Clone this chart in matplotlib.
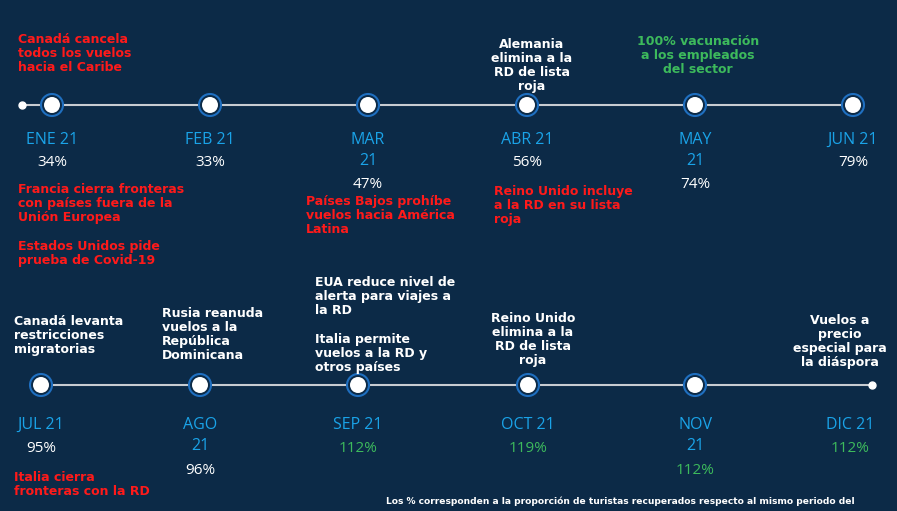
import matplotlib.pyplot as plt
from matplotlib.patches import Circle

# Datos
meses_1 = ['ENE 21', 'FEB 21', 'MAR\n21', 'ABR 21', 'MAY\n21', 'JUN 21']
pct_1 = ['34%', '33%', '47%', '56%', '74%', '79%']
meses_2 = ['JUL 21', 'AGO\n21', 'SEP 21', 'OCT 21', 'NOV\n21', 'DIC 21']
pct_2 = ['95%', '96%', '112%', '119%', '112%', '112%']

# eventos: (texto, x, y, color, alineacion)
eventos = [
    ('Canadá cancela\ntodos los vuelos\nhacia el Caribe', 18, 33, 'red', 'left'),
    ('Alemania\nelimina a la\nRD de lista\nroja', 532, 38, 'white', 'center'),
    ('100% vacunación\na los empleados\ndel sector', 698, 35, 'green', 'center'),
    ('Francia cierra fronteras\ncon países fuera de la\nUnión Europea', 18, 183, 'red', 'left'),
    ('Estados Unidos pide\nprueba de Covid-19', 18, 240, 'red', 'left'),
    ('Países Bajos prohíbe\nvuelos hacia América\nLatina', 306, 195, 'red', 'left'),
    ('Reino Unido incluye\na la RD en su lista\nroja', 494, 185, 'red', 'left'),
    ('Canadá levanta\nrestricciones\nmigratorias', 14, 315, 'white', 'left'),
    ('Rusia reanuda\nvuelos a la\nRepública\nDominicana', 162, 307, 'white', 'left'),
    ('EUA reduce nivel de\nalerta para viajes a\nla RD', 315, 276, 'white', 'left'),
    ('Italia permite\nvuelos a la RD y\notros países', 315, 333, 'white', 'left'),
    ('Reino Unido\nelimina a la\nRD de lista\nroja', 533, 312, 'white', 'center'),
    ('Vuelos a\nprecio\nespecial para\nla diáspora', 840, 314, 'white', 'center'),
    ('Italia cierra\nfronteras con la RD', 14, 471, 'red', 'left'),
]

colores = {'red': '#ff1a1a', 'white': 'white', 'green': '#3dba5c'}
fondo = '#0c2a47'
azul = '#1aa3e8'
verde = '#3dba5c'

fig = plt.figure(figsize=(8.97, 5.11), dpi=100, facecolor=fondo)
ax = fig.add_axes([0, 0, 1, 1])
ax.set_facecolor(fondo)
ax.set_xlim(0, 897)
ax.set_ylim(511, 0)
ax.axis('off')


def fila(meses, pct, xs, y, x0, x1, xpunto, pct_verde, dm, d1, d2):
    ax.plot([x0, x1], [y, y], color='#c8ccd2', lw=1.5, zorder=1)
    ax.plot([xpunto], [y], 'o', color='white', ms=5, zorder=3)
    for i, (m, p) in enumerate(zip(meses, pct)):
        x = xs[i]
        if x is not None:
            ax.add_patch(Circle((x, y), 11, facecolor=fondo, edgecolor='#1f6fc0', lw=1.5, zorder=2))
            ax.add_patch(Circle((x, y), 8, facecolor='white', edgecolor='none', zorder=3))
        xl = xs[i] if xs[i] is not None else 850
        ax.text(xl, y + dm, m, color=azul, fontsize=11.5, ha='center', va='top',
                family='Open Sans', linespacing=1.45)
        dy = d1 if '\n' not in m else d2
        ax.text(xl, y + dy, p, color=verde if i in pct_verde else 'white', fontsize=11,
                ha='center', va='center', family='Open Sans')


fila(meses_1, pct_1, [52, 210, 368, 527, 695, 853], 105, 22, 853, 22, [], 27, 57, 80)
fila(meses_2, pct_2, [41, 200, 358, 528, 695, None], 385, 41, 872, 872, [2, 3, 4, 5], 32, 64, 86)

for txt, x, y, c, al in eventos:
    ax.text(x, y, txt, color=colores[c], fontsize=9, fontweight='bold', ha=al, va='top',
            family='DejaVu Sans', linespacing=1.1)

ax.text(386, 501, 'Los % corresponden a la proporción de turistas recuperados respecto al mismo periodo del',
        color='white', fontsize=6.6, fontweight='bold', ha='left', va='center')

fig.savefig('out.png', dpi=100, facecolor=fondo)
